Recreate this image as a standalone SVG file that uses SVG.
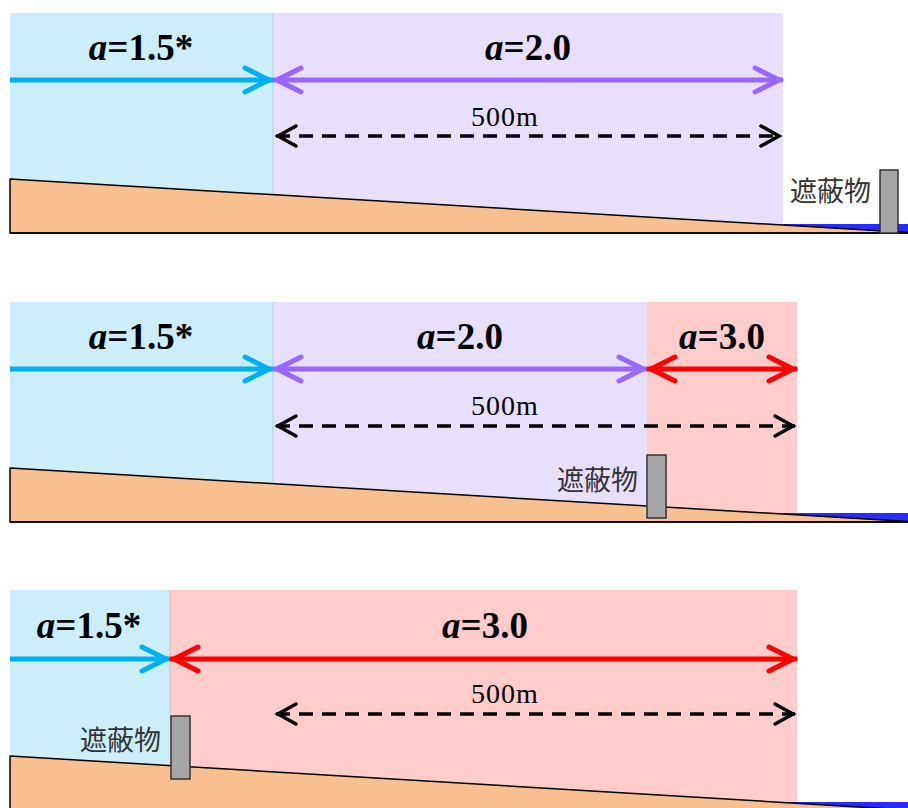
<svg xmlns="http://www.w3.org/2000/svg" width="908" height="808" viewBox="0 0 908 808">
<style>
.bgb{fill:#ccedfa}
.bgp{fill:#e8dffe}
.bgr{fill:#ffcccc}
.div{stroke:#a8d6ee;stroke-width:1}
.ground{fill:#f8c091;stroke:#000;stroke-width:1.5;stroke-linejoin:round}
.water{fill:#2b2bff}
.obs{fill:#a6a6a6;stroke:#333;stroke-width:1.5}
.lab{font-family:"Liberation Serif","Times New Roman",serif;font-weight:bold;font-size:37px;fill:#000;text-anchor:middle}
.dist{font-family:"Liberation Serif","Times New Roman",serif;font-size:28px;fill:#000;text-anchor:middle;letter-spacing:1px}
.obl{font-family:"Noto Sans CJK JP","Noto Sans",sans-serif;font-size:27px;fill:#333;text-anchor:end}
.ab{stroke:#00b0f0;stroke-width:5;fill:none}
.ap{stroke:#9966ff;stroke-width:5;fill:none}
.ar{stroke:#ff0000;stroke-width:5;fill:none}
.ad{stroke:#000;stroke-width:3.5;fill:none;stroke-dasharray:14 9}
</style>
<defs>
<marker id="mb" markerUnits="userSpaceOnUse" viewBox="-32 -16 36 32" refX="0" refY="0" markerWidth="36" markerHeight="32" orient="auto-start-reverse" overflow="visible"><path d="M-28,-12 L-4,0 L-28,12" fill="none" stroke="#00b0f0" stroke-width="5" stroke-linecap="round"/></marker>
<marker id="mp" markerUnits="userSpaceOnUse" viewBox="-32 -16 36 32" refX="0" refY="0" markerWidth="36" markerHeight="32" orient="auto-start-reverse" overflow="visible"><path d="M-28,-12 L-4,0 L-28,12" fill="none" stroke="#9966ff" stroke-width="5" stroke-linecap="round"/></marker>
<marker id="mr" markerUnits="userSpaceOnUse" viewBox="-32 -16 36 32" refX="0" refY="0" markerWidth="36" markerHeight="32" orient="auto-start-reverse" overflow="visible"><path d="M-28,-12 L-4,0 L-28,12" fill="none" stroke="#ff0000" stroke-width="5" stroke-linecap="round"/></marker>
<marker id="md" markerUnits="userSpaceOnUse" viewBox="-24 -14 28 28" refX="0" refY="0" markerWidth="28" markerHeight="28" orient="auto-start-reverse" overflow="visible"><path d="M-20,-10 L-2,0 L-20,10" fill="none" stroke="#000" stroke-width="3.5" stroke-dasharray="none" stroke-linecap="round"/></marker>
</defs>

<g id="panel1">
<rect class="bgb" x="10" y="13" width="263" height="220"/>
<rect class="bgp" x="273" y="13" width="510" height="220"/>
<line class="div" x1="273" y1="13" x2="273" y2="200"/>
<rect class="water" x="783" y="224" width="125" height="9"/>
<polygon class="ground" points="10,179 908,232.5 908,233 10,233"/>
<line x1="10" y1="233" x2="908" y2="233" stroke="#000" stroke-width="1.5"/>
<g id="obs1"><rect class="obs" x="880" y="170" width="18" height="63"/><text class="obl" x="871" y="201">遮蔽物</text></g>
<text class="lab" x="141" y="60"><tspan font-style="italic">a</tspan>=1.5*</text>
<text class="lab" x="528" y="60"><tspan font-style="italic">a</tspan>=2.0</text>
<text class="dist" x="505" y="126">500m</text>
</g>

<g id="panel2">
<rect class="bgb" x="10" y="302" width="263" height="220"/>
<rect class="bgp" x="273" y="302" width="374" height="220"/>
<rect class="bgr" x="647" y="302" width="150" height="220"/>
<line class="div" x1="273" y1="302" x2="273" y2="485"/>
<rect class="water" x="783" y="513" width="125" height="9"/>
<polygon class="ground" points="10,468 908,521.5 908,522 10,522"/>
<line x1="10" y1="522" x2="908" y2="522" stroke="#000" stroke-width="1.5"/>
<g id="obs2"><rect class="obs" x="647" y="455" width="19" height="63"/><text class="obl" x="638" y="490">遮蔽物</text></g>
<text class="lab" x="141" y="349"><tspan font-style="italic">a</tspan>=1.5*</text>
<text class="lab" x="460" y="349"><tspan font-style="italic">a</tspan>=2.0</text>
<text class="lab" x="722" y="349"><tspan font-style="italic">a</tspan>=3.0</text>
<text class="dist" x="505" y="415">500m</text>
</g>

<g id="panel3">
<rect class="bgb" x="10" y="590" width="160" height="220"/>
<rect class="bgr" x="170" y="590" width="627" height="220"/>
<line x1="170" y1="590" x2="170" y2="720" stroke="#c0c8d8" stroke-width="1"/>
<rect class="water" x="788" y="802" width="120" height="9"/>
<polygon class="ground" points="10,756 908,810 908,812 10,812"/>
<g id="obs3"><rect class="obs" x="171" y="716" width="19" height="63"/><text class="obl" x="161" y="750">遮蔽物</text></g>
<text class="lab" x="89" y="638"><tspan font-style="italic">a</tspan>=1.5*</text>
<text class="lab" x="485" y="638"><tspan font-style="italic">a</tspan>=3.0</text>
<text class="dist" x="505" y="703">500m</text>
</g>

<g id="connectors">
<line class="ab" x1="10" y1="80" x2="273" y2="80" marker-end="url(#mb)"/>
<line class="ap" x1="273" y1="80" x2="783" y2="80" marker-start="url(#mp)" marker-end="url(#mp)"/>
<line class="ad" x1="276" y1="136" x2="781" y2="136" marker-start="url(#md)" marker-end="url(#md)"/>

<line class="ab" x1="10" y1="369" x2="273" y2="369" marker-end="url(#mb)"/>
<line class="ap" x1="273" y1="369" x2="647" y2="369" marker-start="url(#mp)" marker-end="url(#mp)"/>
<line class="ar" x1="647" y1="369" x2="797" y2="369" marker-start="url(#mr)" marker-end="url(#mr)"/>
<line class="ad" x1="276" y1="426" x2="795" y2="426" marker-start="url(#md)" marker-end="url(#md)"/>

<line class="ab" x1="10" y1="659" x2="170" y2="659" marker-end="url(#mb)"/>
<line class="ar" x1="170" y1="659" x2="797" y2="659" marker-start="url(#mr)" marker-end="url(#mr)"/>
<line class="ad" x1="276" y1="714" x2="795" y2="714" marker-start="url(#md)" marker-end="url(#md)"/>
</g>
</svg>
